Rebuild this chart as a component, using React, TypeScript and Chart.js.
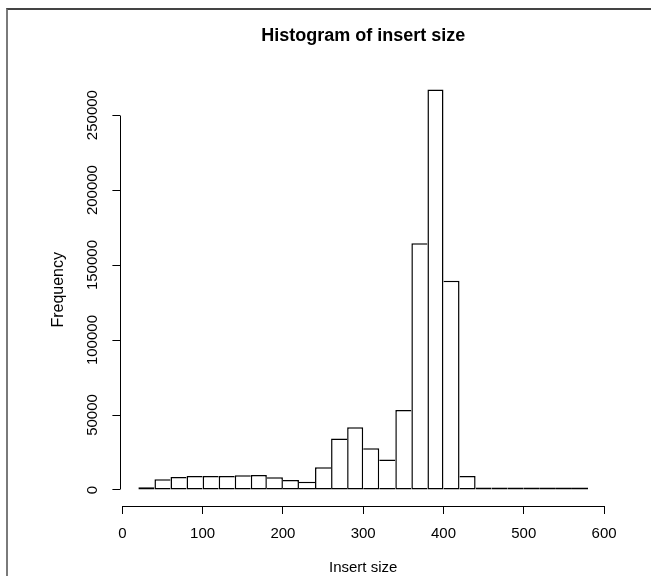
import React, { useEffect, useRef } from "react";
import { Chart, registerables } from "chart.js";

Chart.register(...registerables);

// ---- data ----
const binStarts = [20, 40, 60, 80, 100, 120, 140, 160, 180, 200, 220, 240, 260, 280, 300, 320, 340, 360, 380, 400, 420, 440, 460, 480, 500, 520, 540, 560];
const binWidth = 20;
const counts = [1750, 7100, 8600, 9300, 9300, 9300, 9900, 10000, 8500, 6600, 5550, 15100, 34400, 41800, 27900, 20300, 53300, 164500, 267000, 139600, 9400, 400, 150, 80, 40, 20, 10, 5];
const xTicks = [0, 100, 200, 300, 400, 500, 600];
const yTicks = [0, 50000, 100000, 150000, 200000, 250000];
const titleText = "Histogram of insert size";
const xLabel = "Insert size";
const yLabel = "Frequency";

const FONT = "'Liberation Sans', Arial, Helvetica, sans-serif";
const LW = 1.5;

const align = (p: number) => Math.round(p - 0.5) + 0.5;

const axisLinesPlugin = {
  id: "rAxisLines",
  afterDraw(chart: any) {
    const { ctx, scales } = chart;
    const x = scales.x;
    const y = scales.y;
    ctx.save();
    ctx.strokeStyle = "#000";
    ctx.lineWidth = 1;
    ctx.beginPath();
    const by = align(x.top);
    ctx.moveTo(align(x.getPixelForValue(xTicks[0])), by);
    ctx.lineTo(align(x.getPixelForValue(xTicks[xTicks.length - 1])), by);
    const lx = align(y.right);
    ctx.moveTo(lx, align(y.getPixelForValue(yTicks[0])));
    ctx.lineTo(lx, align(y.getPixelForValue(yTicks[yTicks.length - 1])));
    ctx.stroke();
    ctx.restore();
  },
};

export default function App() {
  const ref = useRef<HTMLCanvasElement>(null);

  useEffect(() => {
    const canvas = ref.current;
    if (!canvas) return;
    const xMinData = binStarts[0];
    const xMaxData = binStarts[binStarts.length - 1] + binWidth;
    const xPad = 0.04 * (xMaxData - xMinData);
    const yMaxData = Math.max(...counts);
    const yPad = 0.04 * yMaxData;

    const chart = new Chart(canvas, {
      type: "bar",
      data: {
        datasets: [
          {
            data: binStarts.map((s, i) => ({ x: s + binWidth / 2, y: counts[i] })),
            backgroundColor: "#ffffff",
            borderColor: "#000000",
            borderWidth: (ctx: any) => {
              const i = ctx.dataIndex;
              const cur = counts[i];
              const prev = counts[i - 1];
              const next = counts[i + 1];
              return {
                left: prev === undefined || prev <= cur ? LW : 0,
                right: next === undefined || next < cur ? LW : 0,
                top: LW,
                bottom: LW,
              };
            },
            borderSkipped: false,
            barPercentage: 1,
            categoryPercentage: 1,
            minBarLength: 2.5,
            inflateAmount: 0,
          } as any,
        ],
      },
      options: {
        animation: false,
        responsive: false,
        devicePixelRatio: 1,
        layout: { padding: { left: 0, top: 0, right: 45, bottom: 0 } },
        plugins: {
          legend: { display: false },
          tooltip: { enabled: false },
          title: {
            display: true,
            text: titleText,
            color: "#000",
            fullSize: false,
            font: { family: FONT, size: 18, weight: "bold" },
            padding: { top: 25, bottom: 27 },
          },
        },
        scales: {
          x: {
            type: "linear",
            min: xMinData - xPad,
            max: xMaxData + xPad,
            offset: false,
            bounds: "data",
            afterBuildTicks: (s: any) => {
              s.ticks = xTicks.map((v) => ({ value: v }));
            },
            afterFit: (s: any) => {
              s.height = 70;
            },
            grid: {
              display: true,
              drawOnChartArea: false,
              drawTicks: true,
              tickLength: 8,
              color: "#000",
              lineWidth: 1,
              offset: false,
            },
            border: { display: false },
            ticks: {
              color: "#000",
              font: { family: FONT, size: 15 },
              padding: 11,
              minRotation: 0,
              maxRotation: 0,
              autoSkip: false,
              callback: (v: any) => String(v),
            },
            title: {
              display: true,
              text: xLabel,
              color: "#000",
              font: { family: FONT, size: 15 },
              padding: { top: 0, bottom: -1 },
            },
          },
          y: {
            type: "linear",
            position: "left",
            min: -yPad,
            max: yMaxData + yPad,
            bounds: "data",
            afterBuildTicks: (s: any) => {
              s.ticks = yTicks.map((v) => ({ value: v }));
            },
            afterFit: (s: any) => {
              s.width = 120.4;
            },
            grid: {
              display: true,
              drawOnChartArea: false,
              drawTicks: true,
              tickLength: 8,
              color: "#000",
              lineWidth: 1,
            },
            border: { display: false },
            ticks: {
              color: "#000",
              font: { family: FONT, size: 15 },
              padding: -5.6,
              minRotation: 90,
              maxRotation: 90,
              crossAlign: "center",
              autoSkip: false,
              callback: (v: any) => String(v),
            },
            title: {
              display: true,
              text: yLabel,
              color: "#000",
              font: { family: FONT, size: 16 },
              padding: { top: 48.7, bottom: 0 },
            },
          },
        },
      } as any,
      plugins: [axisLinesPlugin],
    });

    return () => chart.destroy();
  }, []);

  return (
    <div
      style={{
        position: "fixed",
        left: 0,
        top: 0,
        width: 651,
        height: 576,
        overflow: "hidden",
        background: "#ffffff",
      }}
    >
      <div
        style={{
          position: "absolute",
          left: 6,
          top: 8,
          width: 700,
          height: 700,
          borderTop: "2px solid #444",
          borderLeft: "2px solid #7a7a7a",
        }}
      />
      <canvas
        ref={ref}
        width={651}
        height={576}
        style={{ position: "absolute", left: 0, top: 0, width: 651, height: 576, display: "block" }}
      />
    </div>
  );
}
